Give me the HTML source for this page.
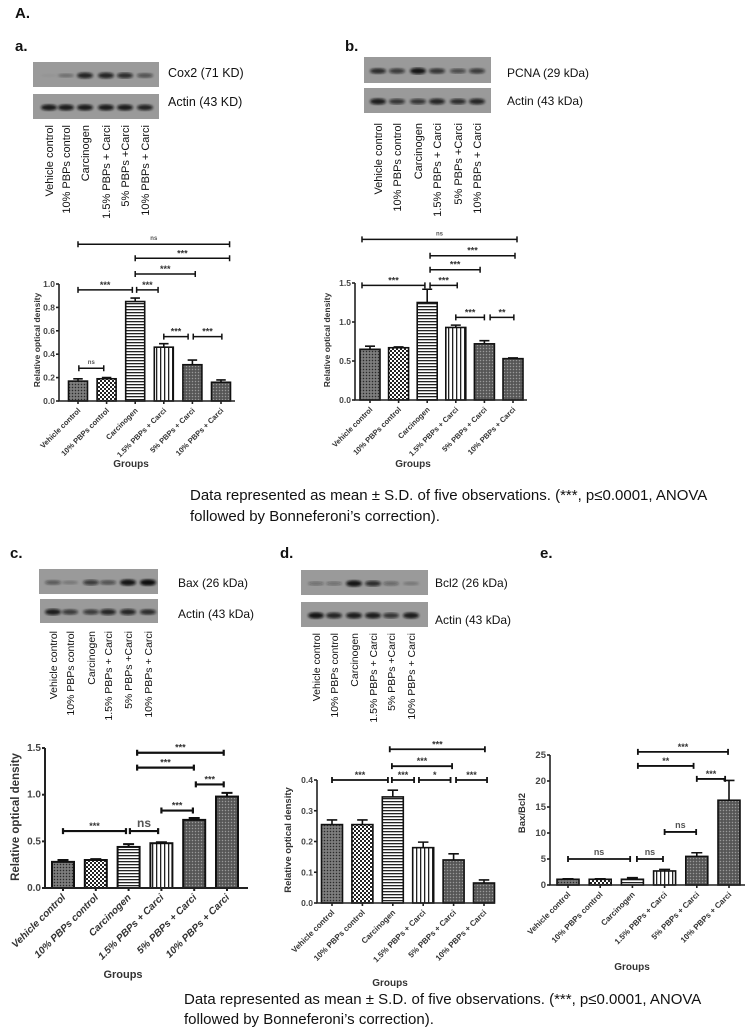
<!DOCTYPE html>
<html><head><meta charset="utf-8"><style>
html,body{margin:0;padding:0;background:#fff;}
svg{display:block;font-family:"Liberation Sans",sans-serif;}
.cap{font-family:"Liberation Sans",sans-serif;font-size:15px;fill:#111;}
</style></head><body>
<svg id="fig" width="749" height="1028" viewBox="0 0 749 1028" xmlns="http://www.w3.org/2000/svg">
<defs>
<pattern id="pDots" width="3" height="3" patternUnits="userSpaceOnUse"><rect width="3" height="3" fill="#6e6e6e"/><rect width="1" height="1" fill="#2a2a2a"/><rect x="1.5" y="1.5" width="1" height="1" fill="#aaa"/></pattern>
<pattern id="pCheck" width="4" height="4" patternUnits="userSpaceOnUse"><rect width="4" height="4" fill="#fff"/><rect width="2" height="2" fill="#222"/><rect x="2" y="2" width="2" height="2" fill="#222"/></pattern>
<pattern id="pHoriz" width="4" height="3" patternUnits="userSpaceOnUse"><rect width="4" height="3" fill="#fff"/><rect width="4" height="1.3" fill="#222"/></pattern>
<pattern id="pVert" width="4" height="4" patternUnits="userSpaceOnUse"><rect width="4" height="4" fill="#fff"/><rect width="1.3" height="4" fill="#222"/></pattern>
<pattern id="pGrey" width="3" height="3" patternUnits="userSpaceOnUse"><rect width="3" height="3" fill="#626262"/><rect width="1" height="1" fill="#999"/><rect x="1.5" y="1.5" width="1" height="1" fill="#333"/></pattern>
<filter id="blur"><feGaussianBlur stdDeviation="1.2"/></filter>
</defs>
</svg>
<script>
const svg=document.getElementById('fig');
const NS='http://www.w3.org/2000/svg';
function mk(tag,attrs,parent){const e=document.createElementNS(NS,tag);for(const k in attrs)e.setAttribute(k,attrs[k]);(parent||svg).appendChild(e);return e;}
function txt(s,attrs,parent){const e=mk('text',attrs,parent);e.textContent=s;return e;}

const groups=["Vehicle control","10% PBPs control","Carcinogen","1.5% PBPs + Carci","5% PBPs + Carci","10% PBPs + Carci"];
const laneLabels=["Vehicle control","10% PBPs control","Carcinogen","1.5% PBPs + Carci","5% PBPs +Carci","10% PBPs + Carci"];
const fills=["url(#pDots)","url(#pCheck)","url(#pHoriz)","url(#pVert)","url(#pGrey)","url(#pGrey)"];

// Panel a data
const aValues=[0.17,0.19,0.85,0.46,0.31,0.16];
const aErrors=[0.02,0.01,0.03,0.03,0.04,0.02];
const aTicks=[0,0.2,0.4,0.6,0.8,1.0];
const aTickLabels=["0.0","0.2","0.4","0.6","0.8","1.0"];
const aBrackets=[[0,5.3,1.34,"ns"],[2,5.3,1.22,"***"],[2,4.1,1.085,"***"],[2.05,2.8,0.95,"***"],[0,1.9,0.95,"***"],[3,3.85,0.55,"***"],[4.03,5.03,0.55,"***"],[0.03,0.9,0.28,"ns"]];
// Panel b data
const bValues=[0.65,0.67,1.25,0.93,0.72,0.53];
const bErrors=[0.04,0.01,0.17,0.03,0.04,0.01];
const bTicks=[0,0.5,1.0,1.5];
const bTickLabels=["0.0","0.5","1.0","1.5"];
const bBrackets=[[-0.28,5.14,2.06,"ns"],[2.1,5.07,1.85,"***"],[2.1,3.85,1.67,"***"],[2.1,3.05,1.47,"***"],[-0.28,1.92,1.47,"***"],[3,4,1.06,"***"],[4.2,5.03,1.06,"**"]];
// Panel c data
const cValues=[0.28,0.30,0.44,0.48,0.73,0.98];
const cErrors=[0.02,0.01,0.03,0.01,0.02,0.04];
const cTicks=[0,0.5,1.0,1.5];
const cTickLabels=["0.0","0.5","1.0","1.5"];
const cBrackets=[[2.26,4.9,1.45,"***"],[2.26,3.99,1.29,"***"],[4.05,4.9,1.11,"***"],[3.0,3.96,0.83,"***"],[0,1.92,0.61,"***"],[2.04,2.9,0.61,"ns"]];
// Panel d data
const dValues=[0.255,0.255,0.345,0.18,0.14,0.065];
const dErrors=[0.015,0.015,0.022,0.018,0.02,0.01];
const dTicks=[0,0.1,0.2,0.3,0.4];
const dTickLabels=["0.0","0.1","0.2","0.3","0.4"];
const dBrackets=[[1.9,5.03,0.50,"***"],[1.97,3.95,0.445,"***"],[0,1.84,0.40,"***"],[1.97,2.7,0.40,"***"],[2.86,3.9,0.40,"*"],[4.08,5.1,0.40,"***"]];
// Panel e data
const eValues=[1.1,1.1,1.1,2.7,5.5,16.3];
const eErrors=[0.1,0.1,0.3,0.3,0.7,3.8];
const eTicks=[0,5,10,15,20,25];
const eTickLabels=["0","5","10","15","20","25"];
const eBrackets=[[2.17,4.97,25.6,"***"],[2.17,3.9,22.9,"**"],[4.0,4.88,20.4,"***"],[3.0,3.98,10.2,"ns"],[0,1.93,5.0,"ns"],[2.14,2.95,5.0,"ns"]];

function chart(id,o,values,errors,ticks,tickLabels,brackets){
  const g=mk('g',{});
  
  
  const x=i=>o.c0+o.step*i;
  const y=v=>o.y0-v*o.ppu;
  const sw=o.lw;
  values.forEach((v,i)=>{
    const r=mk('rect',{x:x(i)-o.bw/2,y:y(v),width:o.bw,height:y(0)-y(v),fill:fills[i],stroke:'#111','stroke-width':sw},g);
    
    
    const ey=y(v+errors[i]);
    const eb=mk('path',{d:`M${x(i)},${y(v)}V${ey}M${x(i)-o.bw/4},${ey}H${x(i)+o.bw/4}`,stroke:'#111','stroke-width':sw,fill:'none'},g);
    
    
  });
  const ax=mk('path',{d:`M${o.x0},${y(ticks[ticks.length-1])}V${o.y0}H${o.xEnd}`,stroke:'#222','stroke-width':sw,fill:'none'},g);
  
  
  ticks.forEach((t,i)=>{
    mk('line',{x1:o.x0-3,x2:o.x0,y1:y(t),y2:y(t),stroke:'#222','stroke-width':sw},g);
    const tl=txt(tickLabels[i],{x:o.x0-4,y:y(t)+3,'text-anchor':'end','font-size':o.tf,'font-weight':'bold',fill:'#444'},g);
    
    
  });
  groups.forEach((s,i)=>{
    mk('line',{x1:x(i),x2:x(i),y1:o.y0,y2:o.y0+3,stroke:'#222','stroke-width':sw},g);
    const xl=txt(s,{x:x(i)+3,y:o.y0+10,'text-anchor':'end','font-size':o.xf,'font-weight':'bold','font-style':o.ital?'italic':'normal',fill:'#333',transform:`rotate(-45 ${x(i)+3} ${o.y0+10})`},g);
    
    
  });
  brackets.forEach(b=>{
    const x1=x(b[0]),x2=x(b[1]),yy=y(b[2]);
    const br=mk('path',{d:`M${x1},${yy-3}V${yy+3}M${x1},${yy}H${x2}M${x2},${yy-3}V${yy+3}`,stroke:'#111','stroke-width':o.bl,fill:'none'},g);
    
    
    const lab=txt(b[3],{x:(x1+x2)/2,y:yy-(b[3]=='ns'?4:2),'text-anchor':'middle','font-size':b[3]=='ns'?o.nsf:9,fill:b[3]=='ns'?'#555':'#333','font-weight':'bold'},g);
    
    
  });
  const yt=txt(o.ytitle,{x:o.ytx,y:o.yty,'text-anchor':'middle','font-size':o.ytf,'font-weight':'bold',fill:'#333',transform:`rotate(-90 ${o.ytx} ${o.yty})`},g);
  
  
  const gx=txt('Groups',{x:o.gx,y:o.gy,'text-anchor':'middle','font-size':o.gf,'font-weight':'bold',fill:'#333'},g);
  
  
}

chart('a',{c0:78,step:28.6,bw:19,x0:59,xEnd:235,y0:401,ppu:117,lw:1.6,bl:1.5,tf:8.5,xf:7.5,nsf:6,ytitle:'Relative optical density',ytx:40,yty:340,ytf:8.5,gx:131,gy:467,gf:10},aValues,aErrors,aTicks,aTickLabels,aBrackets);
chart('b',{c0:370,step:28.6,bw:20,x0:355,xEnd:527,y0:400,ppu:78,lw:1.6,bl:1.5,tf:8.5,xf:7.5,nsf:6,ytitle:'Relative optical density',ytx:330,yty:340,ytf:8.5,gx:413,gy:467,gf:10},bValues,bErrors,bTicks,bTickLabels,bBrackets);
chart('c',{c0:63,step:32.8,bw:22,x0:45,xEnd:248,y0:888,ppu:93.3,lw:2,bl:2.2,tf:10,xf:10,nsf:12,ital:true,ytitle:'Relative optical density',ytx:19,yty:817,ytf:11.5,gx:123,gy:978,gf:11},cValues,cErrors,cTicks,cTickLabels,cBrackets);
chart('d',{c0:332,step:30.4,bw:21,x0:317,xEnd:495,y0:903,ppu:307.5,lw:1.6,bl:1.8,tf:8.5,xf:8,nsf:7,ytitle:'Relative optical density',ytx:291,yty:840,ytf:9.5,gx:390,gy:986,gf:10},dValues,dErrors,dTicks,dTickLabels,dBrackets);
chart('e',{c0:568,step:32.2,bw:22,x0:550,xEnd:745,y0:885,ppu:5.2,lw:1.6,bl:1.8,tf:9.5,xf:8,nsf:9,ytitle:'Bax/Bcl2',ytx:525,yty:813,ytf:9.5,gx:632,gy:970,gf:10},eValues,eErrors,eTicks,eTickLabels,eBrackets);

function blot(id,x,y,w,h,lanes,intens,label,lx,ly,fs){
  const g=mk('g',{});
  
  
  mk('rect',{x:x,y:y,width:w,height:h,fill:'#9a9a9a'},g);
  lanes.forEach((lx2,i)=>{
    const a=intens[i];
    if(a>0) mk('ellipse',{cx:lx2,cy:y+h/2+1,rx:8,ry:1.3+a*2,fill:'#111','fill-opacity':a,filter:'url(#blur)'},g);
  });
  const t=txt(label,{x:lx,y:ly,'font-size':fs,fill:'#111'},g);
  
  
}
function lanesText(id,xs,top,fs){
  xs.forEach((xx,i)=>{
    const t=txt(laneLabels[i],{x:xx+4,y:top,'text-anchor':'end','font-size':fs,fill:'#111',transform:`rotate(-90 ${xx+4} ${top})`});
    
    
  });
}
const aL=[49,66,85,106,125,145];
blot('a-cox2-blot',33,62,126,25,aL,[0.05,0.3,0.85,0.85,0.8,0.55],'Cox2 (71 KD)',168,77,12.5);
blot('a-actin-blot',33,94,126,25,aL,[0.9,0.9,0.9,0.9,0.9,0.85],'Actin (43 KD)',168,106,12.5);
lanesText('a',aL,125,11);
const bL=[378,397,418,437,458,477];
blot('b-pcna-blot',364,57,127,26,bL,[0.8,0.7,0.95,0.75,0.6,0.7],'PCNA (29 kDa)',507,77,12);
blot('b-actin-blot',364,88,127,25,bL,[0.9,0.75,0.75,0.85,0.8,0.85],'Actin (43 kDa)',507,105,12);
lanesText('b',bL,123,11);
const cL=[53,70,91,108,128,148];
blot('c-bax-blot',39,569,119,25,cL,[0.5,0.25,0.7,0.55,0.95,1],'Bax (26 kDa)',178,587,12);
blot('c-actin-blot',40,599,118,24,cL,[0.9,0.7,0.7,0.85,0.85,0.8],'Actin (43 kDa)',178,618,12);
lanesText('c',cL,631,10.5);
const dL=[316,334,354,373,391,411];
blot('d-bcl2-blot',301,570,127,25,dL,[0.35,0.35,0.95,0.8,0.4,0.25],'Bcl2 (26 kDa)',435,587,12);
blot('d-actin-blot',301,602,127,25,dL,[0.95,0.85,0.9,0.9,0.75,0.9],'Actin (43 kDa)',435,624,12);
lanesText('d',dL,633,10.5);

[['A.',15,18],['a.',15,51],['b.',345,51],['c.',10,558],['d.',280,558],['e.',540,558]].forEach(p=>{
  const t=txt(p[0],{x:p[1],y:p[2],'font-size':15,'font-weight':'bold',fill:'#111'});
  
  
});
[[190,500,'Data represented as mean ± S.D. of five observations. (***, p≤0.0001, ANOVA'],[190,521,'followed by Bonneferoni’s correction).'],[184,1004,'Data represented as mean ± S.D. of five observations. (***, p≤0.0001, ANOVA'],[184,1024,'followed by Bonneferoni’s correction).']].forEach(c=>{
  const t=txt(c[2],{x:c[0],y:c[1],class:'cap'});
  
  
});
</script>
</body></html>
